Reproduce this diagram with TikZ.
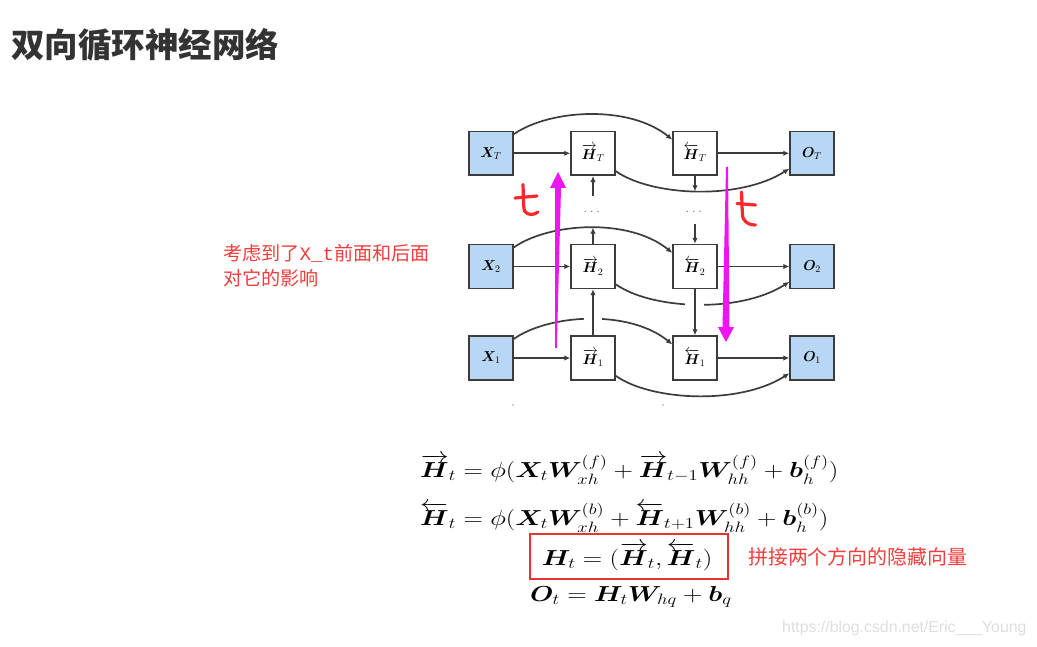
\documentclass[tikz,border=0pt]{standalone}
\usepackage{amsmath,bm,graphicx}
\usepackage{fontspec}
\newfontfamily\cjk{Noto Sans CJK SC}
\newfontfamily\mono{Liberation Mono}
\newfontfamily\wmfont{Liberation Sans}
\usetikzlibrary{arrows.meta}
\definecolor{boxblue}{RGB}{183,215,245}
\definecolor{edge}{RGB}{60,60,60}
\definecolor{ann}{RGB}{245,60,60}
\definecolor{hred}{RGB}{250,40,40}
\definecolor{boxred}{RGB}{235,50,50}
\definecolor{mag}{RGB}{240,20,240}
\definecolor{wmc}{RGB}{222,222,222}
\definecolor{titlec}{RGB}{51,51,51}
\newcommand{\eqscale}[1]{\scalebox{1.3}[1.05]{#1}}
\tikzset{
  cell/.style={draw=edge, line width=1.7, minimum width=44, minimum height=44, inner sep=0, font=\fontsize{14.5}{16}\selectfont},
  inbox/.style={cell, fill=boxblue},
  hbox/.style={cell, fill=white},
  con/.style={draw=edge, line width=1.7, -{Latex[length=6,width=5.5]}},
  hand/.style={draw=hred, line width=3.2, line cap=round, line join=round},
  eq/.style={inner sep=0, anchor=base west, font=\fontsize{21}{25}\selectfont},
  dotsn/.style={inner sep=0, text=gray, font=\fontsize{14}{16}\selectfont},
}
\begin{document}
\begin{tikzpicture}[x=1bp,y=-1bp]
\useasboundingbox (0,0) rectangle (1037,647);
\fill[white] (0,0) rectangle (1037,647);

% title
\node[anchor=west, inner sep=0, text=titlec, font=\cjk\bfseries\fontsize{33.6}{36}\selectfont] (title) at (11,45) {双向循环神经网络};

% cells
\node[inbox] (xT) at (491,153.3) {$\boldsymbol{X}_T$};
\node[hbox]  (fT) at (593,153.3) {$\overrightarrow{\boldsymbol{H}}_T$};
\node[hbox]  (bT) at (695,153.3) {$\overleftarrow{\boldsymbol{H}}_T$};
\node[inbox] (oT) at (812,153.3) {$\boldsymbol{O}_T$};
\node[inbox] (x2) at (491,266.5) {$\boldsymbol{X}_2$};
\node[hbox]  (f2) at (593,266.5) {$\overrightarrow{\boldsymbol{H}}_2$};
\node[hbox]  (b2) at (695,266.5) {$\overleftarrow{\boldsymbol{H}}_2$};
\node[inbox] (o2) at (812,266.5) {$\boldsymbol{O}_2$};
\node[inbox] (x1) at (491,358) {$\boldsymbol{X}_1$};
\node[hbox]  (f1) at (593,358) {$\overrightarrow{\boldsymbol{H}}_1$};
\node[hbox]  (b1) at (695,358) {$\overleftarrow{\boldsymbol{H}}_1$};
\node[inbox] (o1) at (812,358) {$\boldsymbol{O}_1$};

\node[dotsn] (dF) at (593,212) {$\cdots$};
\node[dotsn] (dB) at (695,212) {$\cdots$};

% row T
\draw[con] (xT) -- (fT);
\draw[con] (bT) -- (oT);
\draw[con] (xT.40) .. controls +(36,-25) and +(-43,-35) .. (bT.149);
\draw[con] (fT.-38) .. controls +(35,25) and +(-50,32) .. coordinate[pos=0.5] (lowT) (oT.214);
\draw[con] (bT.south) -- (bT.south |- lowT);
\draw[con] ([yshift=16]dF.center) -- (fT.south);

% row 2
\draw[con] (x2) -- (f2);
\draw[con] (b2) -- (o2);
\draw[con] (x2.40) .. controls +(36,-25) and +(-43,-35) .. coordinate[pos=0.5] (top2) (b2.149);
\draw[con] (f2.north) -- (f2.north |- top2);
\draw[con] ([yshift=-12]dB.center) -- (b2.north);
\draw[con] (f2.-38) .. controls +(35,25) and +(-50,32) .. (o2.214);
\fill[white] (685,292) rectangle (704,315);
\draw[con] (b2.south) -- (b1.north);

% row 1
\draw[con] (x1) -- (f1);
\draw[con] (b1) -- (o1);
\draw[con] (x1.40) .. controls +(36,-25) and +(-43,-35) .. (b1.149);
\fill[white] (584,308) rectangle (602,330);
\draw[con] (f1.north) -- (f2.south);
\draw[con] (f1.-38) .. controls +(35,25) and +(-50,32) .. (o1.214);

\fill[gray!70] (513,405) circle (0.8);
\fill[gray!70] (663,405) circle (0.8);

% magenta arrows
\fill[mag] (555.2,348) -- (556.8,348) -- (561,188) -- (566,188) -- (558,172) -- (550,188) -- (555,188) -- cycle;
\fill[mag] (726,167) -- (728,167) -- (729.5,327) -- (734,327) -- (726,342) -- (718,327) -- (722.5,327) -- cycle;

% handwritten t
\draw[hand] (523,184.5) .. controls (523.5,196) and (523,205) .. (524.5,211) .. controls (528,216) and (534,215) .. (538,212);
\draw[hand] (515,198) -- (537,196);
\draw[hand] (741.5,192) .. controls (742,202) and (742,212) .. (743,218) .. controls (746,224) and (751,225) .. (755.5,225);
\draw[hand] (737,203.5) -- (755.5,205);

% annotations
\node[anchor=west, inner sep=0, text=ann, font=\cjk\fontsize{19.2}{22}\selectfont] (ann1) at (223,253.5) {考虑到了{\mono X\_t}前面和后面};
\node[anchor=west, inner sep=0, text=ann, font=\cjk\fontsize{19.2}{22}\selectfont] (ann2) at (223,278.5) {对它的影响};
\node[anchor=west, inner sep=0, text=ann, font=\cjk\fontsize{20}{24}\selectfont] (ann3) at (748,557) {拼接两个方向的隐藏向量};

% equations
\node[eq] (e1) at (420,477.7) {\eqscale{$\overrightarrow{\boldsymbol{H}}_t = \phi(\boldsymbol{X}_t \boldsymbol{W}_{xh}^{(f)} + \overrightarrow{\boldsymbol{H}}_{t-1}\boldsymbol{W}_{hh}^{(f)} + \boldsymbol{b}_h^{(f)})$}};
\node[eq] (e2) at (420,525.7) {\eqscale{$\overleftarrow{\boldsymbol{H}}_t = \phi(\boldsymbol{X}_t \boldsymbol{W}_{xh}^{(b)} + \overleftarrow{\boldsymbol{H}}_{t+1}\boldsymbol{W}_{hh}^{(b)} + \boldsymbol{b}_h^{(b)})$}};
\node[eq] (e3) at (541.7,565) {\eqscale{$\boldsymbol{H}_t = (\overrightarrow{\boldsymbol{H}}_t, \overleftarrow{\boldsymbol{H}}_t)$}};
\node[eq] (e4) at (530,601.7) {\eqscale{$\boldsymbol{O}_t = \boldsymbol{H}_t \boldsymbol{W}_{hq} + \boldsymbol{b}_q$}};
\draw[boxred, line width=2.6] (530,534) rectangle (728,579);

% watermark
\node[anchor=west, inner sep=0, text=wmc, font=\wmfont\fontsize{15.9}{18}\selectfont] (wm) at (782,628) {https://blog.csdn.net/Eric\_\_\_Young};
\end{tikzpicture}
\end{document}
